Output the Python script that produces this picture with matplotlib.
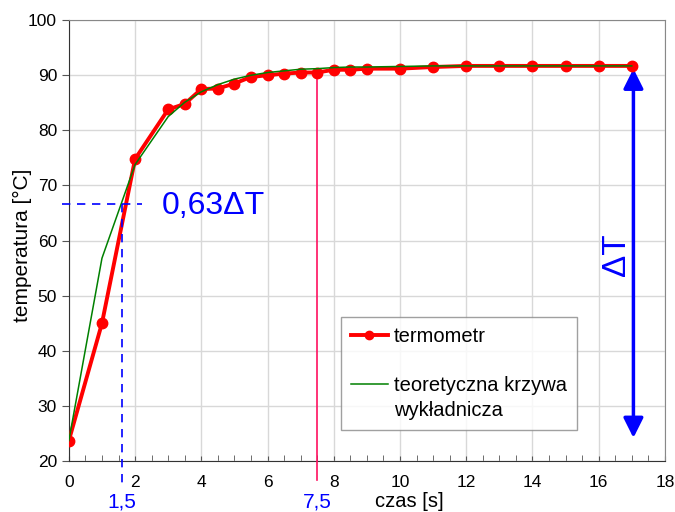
import matplotlib
matplotlib.use("Agg")
from matplotlib import pyplot as plt
from matplotlib.lines import Line2D
from matplotlib.ticker import MultipleLocator

# pomiar termometrem
czas = [0, 1, 2, 3, 3.5, 4, 4.5, 5, 5.5, 6, 6.5, 7, 7.5, 8, 8.5, 9,
        10, 11, 12, 13, 14, 15, 16, 17]
termometr = [23.7, 45.0, 74.8, 83.8, 84.8, 87.5, 87.6, 88.5, 89.7, 90.0, 90.3, 90.5,
             90.5, 91.0, 91.0, 91.2, 91.2, 91.5, 91.7, 91.7, 91.7, 91.7, 91.7, 91.7]
# krzywa teoretyczna
teoria = [23.7, 56.8, 73.8, 82.5, 85.1, 87.0, 88.3, 89.3, 90.0, 90.5, 90.8, 91.1,
          91.2, 91.4, 91.5, 91.5, 91.6, 91.7, 91.7, 91.7, 91.7, 91.7, 91.7, 91.7]

t63 = 1.6     # czas dla 0,63 dT
T63 = 66.7
t_ust = 7.5
T_ust = 90.5
T_max = 91.2
T_dol = 24.2

plt.rcParams['font.family'] = ['Liberation Sans', 'DejaVu Sans']

fig = plt.figure(figsize=(6.75, 5.12), dpi=100)
ax = fig.add_axes([0.102, 0.0996, 0.883, 0.861])

ax.plot(czas, termometr, color='red', lw=2.8, marker='o', ms=7.5, zorder=4)
ax.plot(czas, teoria, color='green', lw=1.1, zorder=5)

ax.set_xlim(0, 18)
ax.set_ylim(20, 100)
ax.xaxis.set_major_locator(MultipleLocator(2))
ax.xaxis.set_minor_locator(MultipleLocator(0.5))
ax.yaxis.set_major_locator(MultipleLocator(10))
ax.grid(True, which='major', color='#d8d8d8', lw=1)
ax.set_axisbelow(True)
ax.tick_params(axis='x', which='both', direction='in', labelsize=12.5, pad=10, colors='#555555', labelcolor='black')
ax.tick_params(axis='x', which='minor', length=4)
ax.tick_params(axis='y', direction='out', labelsize=12.5, length=5, colors='#555555', labelcolor='black')
for s in ax.spines.values():
    s.set_color('#888888')
ax.spines['left'].set_color('#333333')
ax.spines['bottom'].set_color('#333333')

ax.set_ylabel('temperatura [°C]', fontsize=15)
ax.yaxis.set_label_coords(-0.062, 0.49)
ax.set_xlabel('czas [s]', fontsize=14.5)
ax.xaxis.set_label_coords(0.572, -0.07)

# linie pomocnicze
ax.plot([-0.2, 2.2], [T63, T63], color='blue', ls=(0, (5, 4)), lw=1.2, clip_on=False, zorder=6)
ax.plot([t63, t63], [T63, 15.6], color='blue', ls=(0, (5, 4)), lw=1.2, clip_on=False, zorder=6)
ax.plot([t_ust, t_ust], [T_ust, 16.5], color='#ff1060', lw=1.2, clip_on=False, zorder=3)
ax.text(2.8, T63 - 0.4, '0,63\u0394T', color='blue', fontsize=23, va='center', ha='left')
ax.text(t63, 11.5, '1,5', color='blue', fontsize=15, ha='center', va='baseline', clip_on=False)
ax.text(t_ust, 11.5, '7,5', color='blue', fontsize=15, ha='center', va='baseline', clip_on=False)

# strzalka dT
ax.annotate('', xy=(17.05, T_max), xytext=(17.05, T_dol),
            arrowprops=dict(arrowstyle='<|-|>', color='blue', lw=2.5,
                            mutation_scale=30, shrinkA=0, shrinkB=0))
ax.text(16.55, 57.4, '\u0394T', color='blue', fontsize=24, rotation=90, ha='center', va='center')

# legenda
uchwyty = [Line2D([], [], color='red', lw=2.8, marker='o', ms=6),
           Line2D([], [], color='none'),
           Line2D([], [], color='green', lw=1.1),
           Line2D([], [], color='none')]
opisy = ['termometr', ' ', 'teoretyczna krzywa', 'wykładnicza']
leg = ax.legend(uchwyty, opisy, loc='upper left', bbox_to_anchor=(0.456, 0.3265),
                borderaxespad=0, fontsize=14.5, frameon=True, fancybox=False,
                edgecolor='#888888', borderpad=0.5, handlelength=1.85,
                handletextpad=0.3, labelspacing=0.28)
leg.get_frame().set_linewidth(1)

fig.savefig('out.png', dpi=100)
